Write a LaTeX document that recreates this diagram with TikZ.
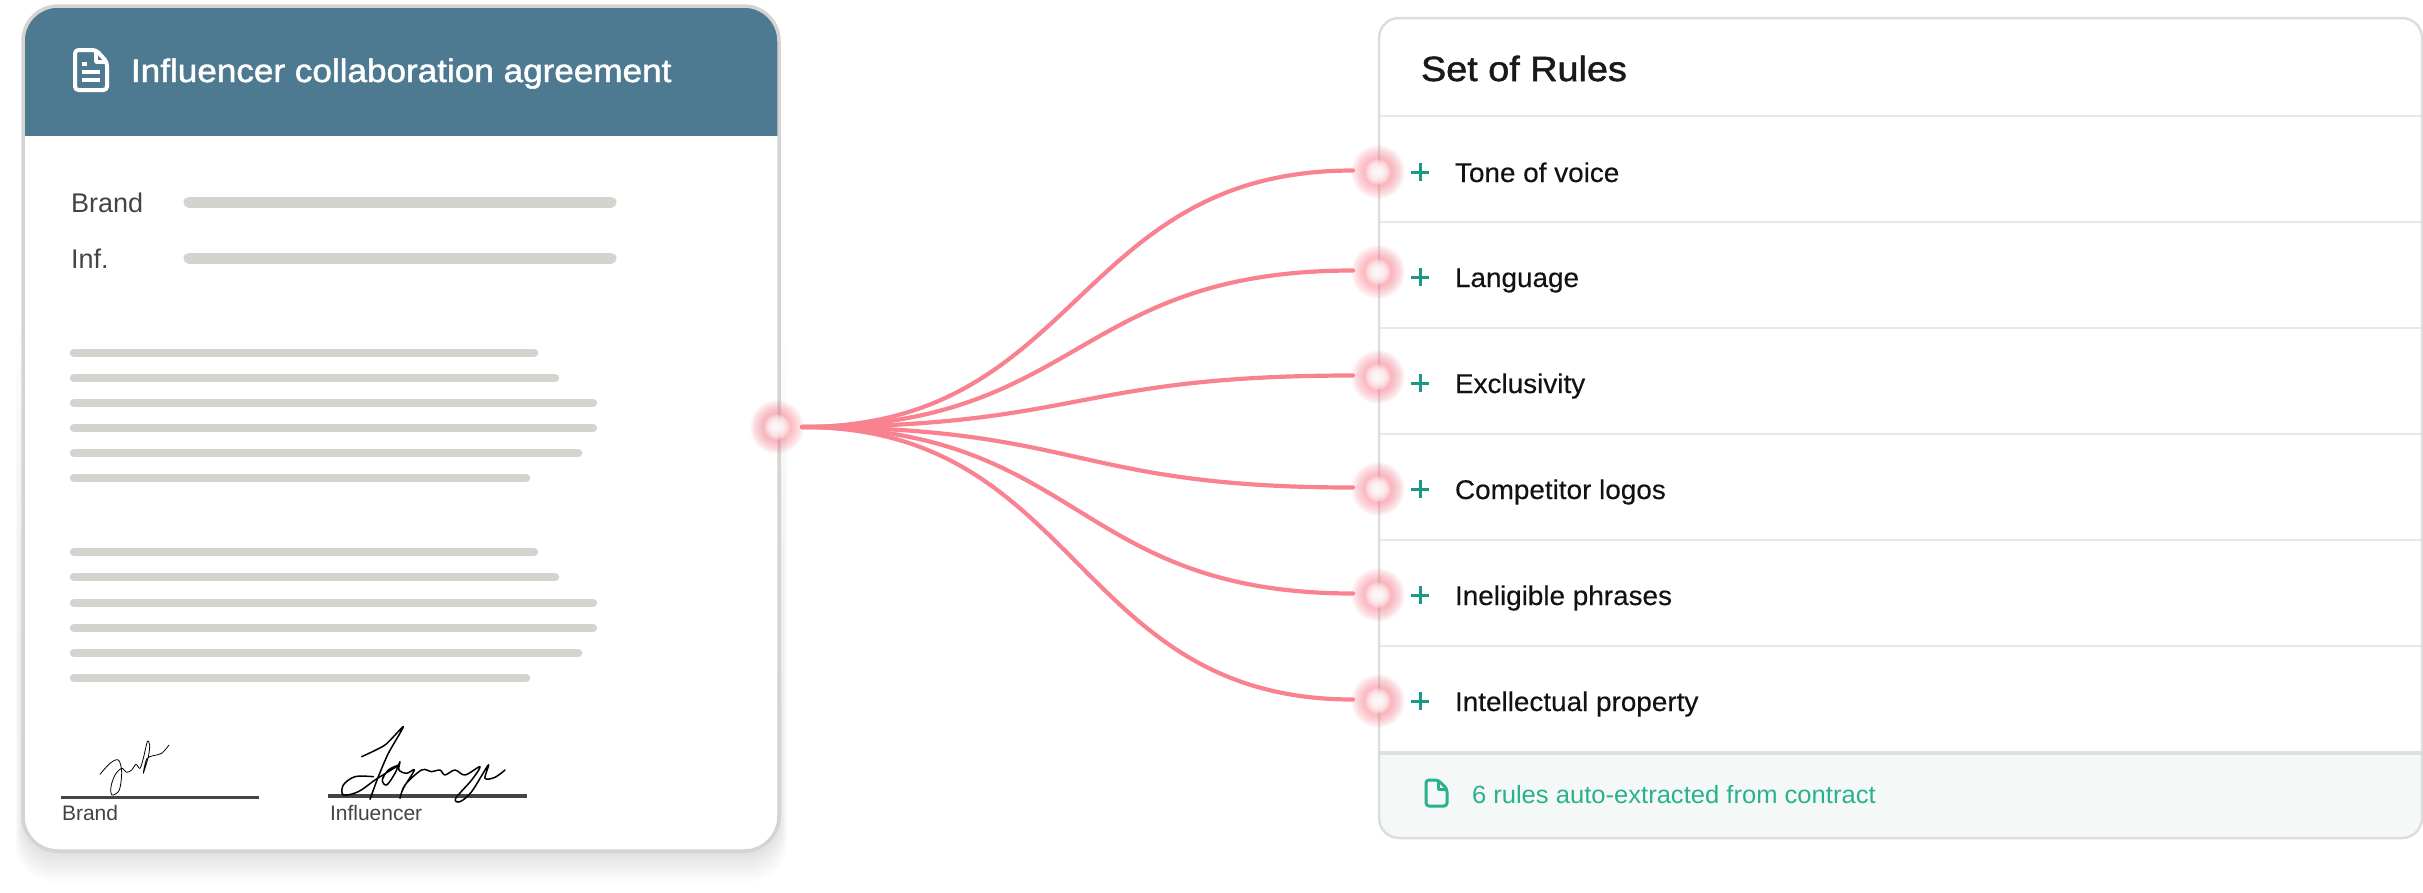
\documentclass[tikz,border=0pt]{standalone}
\usepackage{fontspec}
\setmainfont{Liberation Sans}
\newfontfamily\semifont[FakeBold=1.5, FakeStretch=1.08]{Liberation Sans}
\newfontfamily\rowfont[FakeBold=0.3, FakeStretch=1.033]{Liberation Sans}
\newfontfamily\footfont[FakeStretch=1.023]{Liberation Sans}
\definecolor{headcolor}{RGB}{77,122,144}
\definecolor{cardline}{RGB}{212,212,210}
\definecolor{ruleline}{RGB}{220,222,220}
\definecolor{barcolor}{RGB}{212,212,207}
\definecolor{inkcolor}{RGB}{68,68,66}
\definecolor{linkcolor}{RGB}{249,130,145}
\definecolor{pluscolor}{RGB}{26,152,136}
\definecolor{rowline}{RGB}{232,232,232}
\definecolor{footfill}{RGB}{244,249,247}
\definecolor{foottext}{RGB}{43,176,141}
\tikzset{
  lbl/.style={anchor=base west, inner sep=0pt, outer sep=0pt},
  bar/.style={line cap=round, line width=#1, draw=barcolor},
  sign/.style={draw=black, line join=round, line cap=round}
}
\newcommand{\glowdot}[3]{%
  \foreach \r in {27,26,...,10} {
    \fill[linkcolor, opacity=0.055] (#2,#3) circle (\r);
  }
  \foreach \r in {13,12,...,3} {
    \fill[white, opacity=0.2] (#2,#3) circle (\r);
  }
  \node[circle, minimum size=50pt, inner sep=0pt, outer sep=0pt] (#1) at (#2,#3) {};
}
\newcommand{\rulerow}[4]{%
  \draw[pluscolor, line width=3pt] (1411,#2) -- (1429,#2) (1420,#2-9) -- (1420,#2+9);
  \node[lbl, font=\rowfont\fontsize{27}{32}\selectfont, text=black!93] (#1) at (1455,#2+10) {#4};
  \ifnum#3>0 \draw[rowline, line width=2.5pt] (1380,#3) -- (2421,#3);\fi
}
\begin{document}
\begin{tikzpicture}[x=1pt, y=-1pt]
    \useasboundingbox (0,0) rectangle (2423,892);
    % Card shadow
    \foreach \s in {1,3,...,31} {
      \fill[black, opacity=0.0065, rounded corners=38pt]
        (23-\s/4,811-16*\s) rectangle (779+\s/4,851+\s);
    }
    % Contract card
    \fill[white, rounded corners=35pt] (23,6) rectangle (779,851);
    \begin{scope}
      \clip[rounded corners=35pt] (23,6) rectangle (779,851);
      \fill[headcolor] (23,6) rectangle (779,136);
    \end{scope}
    \draw[cardline, line width=3.5pt, rounded corners=35pt] (23,6) rectangle (779,851);
    % Header
    \draw[white, line width=4pt, rounded corners=3.5pt, line join=round]
      (96,50) -- (75,50) -- (75,90) -- (107,90) -- (107,62) -- cycle;
    \draw[white, line width=3.5pt, line join=round] (96,50) -- (96,62) -- (107,62);
    \draw[white, line width=3.5pt] (82,64) -- (87,64) (82,72) -- (100,72) (82,80) -- (100,80);
    \node[lbl, font=\semifont\fontsize{32.5}{38}\selectfont, text=white] (agreement) at (131,82) {Influencer collaboration agreement};
    % Parties
    \node[lbl, font=\fontsize{27}{32}\selectfont, text=inkcolor] (brandlbl) at (71,212) {Brand};
    \node[lbl, font=\fontsize{27}{32}\selectfont, text=inkcolor] (inflbl) at (71,268) {Inf.};
    \draw[bar=11pt] (189,202) -- (611,202);
    \draw[bar=11pt] (189,258) -- (611,258);
    % Text lines
    \foreach \y/\e in {353/534,378/555,403/593,428/593,453/578,478/526,
                       552/534,577/555,603/593,628/593,653/578,678/526} {
      \draw[bar=8.5pt] (74,\y) -- (\e,\y);
    }
    % Signatures
    \draw[inkcolor, line width=3pt] (61,797) -- (259,797);
    \draw[inkcolor, line width=4.5pt] (328,796) -- (527,796);
    \begin{scope}[shift={(90,735)}, x=0.3333pt, y=-0.3333pt]
      \draw[sign, line width=0.8pt] plot[smooth, tension=0.55] coordinates {
        (30,118) (60,85) (85,75) (95,110) (88,165) (66,180) (63,155) (75,120)
        (95,100) (110,112) (125,105) (138,88) (150,100) (160,70) (172,20)
        (179,30) (175,65) (160,115) (170,72) (190,62) (215,55) (237,30)};
    \end{scope}
    \begin{scope}[shift={(325,720)}, x=0.3333pt, y=-0.3333pt]
      \draw[sign, line width=1.5pt] plot[smooth, tension=0.4] coordinates {
        (110,110) (180,75) (235,20) (190,100) (160,170) (135,238)};
      \draw[sign, line width=1.5pt] plot[smooth, tension=0.55] coordinates {
        (145,170) (90,170) (55,195) (55,225) (100,215) (150,180) (190,155) (222,135)
        (190,150) (172,180) (185,195) (210,160) (225,125) (222,150) (245,160) (268,150)
        (235,205) (225,235) (240,195) (290,150) (320,155) (345,150) (360,165) (390,150)
        (420,165) (465,140) (440,180) (392,235) (405,245) (440,215) (490,135) (480,175)
        (510,172) (540,150)};
    \end{scope}
    \node[lbl, font=\fontsize{21}{25}\selectfont, text=inkcolor] (brandsign) at (62,820) {Brand};
    \node[lbl, font=\fontsize{21}{25}\selectfont, text=inkcolor] (infsign) at (330,820) {Influencer};
    % Rules card
    \fill[white, rounded corners=20pt] (1379,18) rectangle (2422,838);
    \begin{scope}
      \clip[rounded corners=20pt] (1379,18) rectangle (2422,838);
      \fill[footfill] (1379,753) rectangle (2422,838);
    \end{scope}
    \node[lbl, font=\semifont\fontsize{35}{42}\selectfont, text=black!90] (ruletitle) at (1421,81) {Set of Rules};
    \draw[rowline, line width=2.5pt] (1380,116) -- (2421,116);
    \rulerow{tone}{172}{222}{Tone of voice}
    \rulerow{language}{277}{328}{Language}
    \rulerow{exclusive}{383}{434}{Exclusivity}
    \rulerow{logos}{489}{540}{Competitor logos}
    \rulerow{phrases}{595}{646}{Ineligible phrases}
    \rulerow{property}{701}{0}{Intellectual property}
    \draw[black!12, line width=3.5pt] (1380,753) -- (2421,753);
    \draw[ruleline, line width=2.5pt, rounded corners=20pt] (1379,18) rectangle (2422,838);
    % Footer
    \draw[foottext, line width=3pt, rounded corners=3pt, line join=round]
      (1438,780) -- (1426,780) -- (1426,806) -- (1447,806) -- (1447,789) -- cycle;
    \draw[foottext, line width=3pt, line join=round] (1438,780) -- (1438,789) -- (1447,789);
    \node[lbl, font=\footfont\fontsize{25}{30}\selectfont, text=foottext] (footnote) at (1472,803) {6 rules auto-extracted from contract};
    % Glow dots
    \glowdot{contractdot}{777}{427}
    \glowdot{tonedot}{1378}{172}
    \glowdot{languagedot}{1378}{272}
    \glowdot{exclusivedot}{1378}{377}
    \glowdot{logosdot}{1378}{489}
    \glowdot{phrasesdot}{1378}{595}
    \glowdot{propertydot}{1378}{701}
    % Links
    \foreach \d in {tone,language,exclusive,logos,phrases,property} {
      \draw[linkcolor, line width=4.2pt, line cap=round]
        (contractdot.east) .. controls +(280,0) and +(-280,0) .. ([yshift=1.5pt]\d dot.west);
    }
\end{tikzpicture}
\end{document}
